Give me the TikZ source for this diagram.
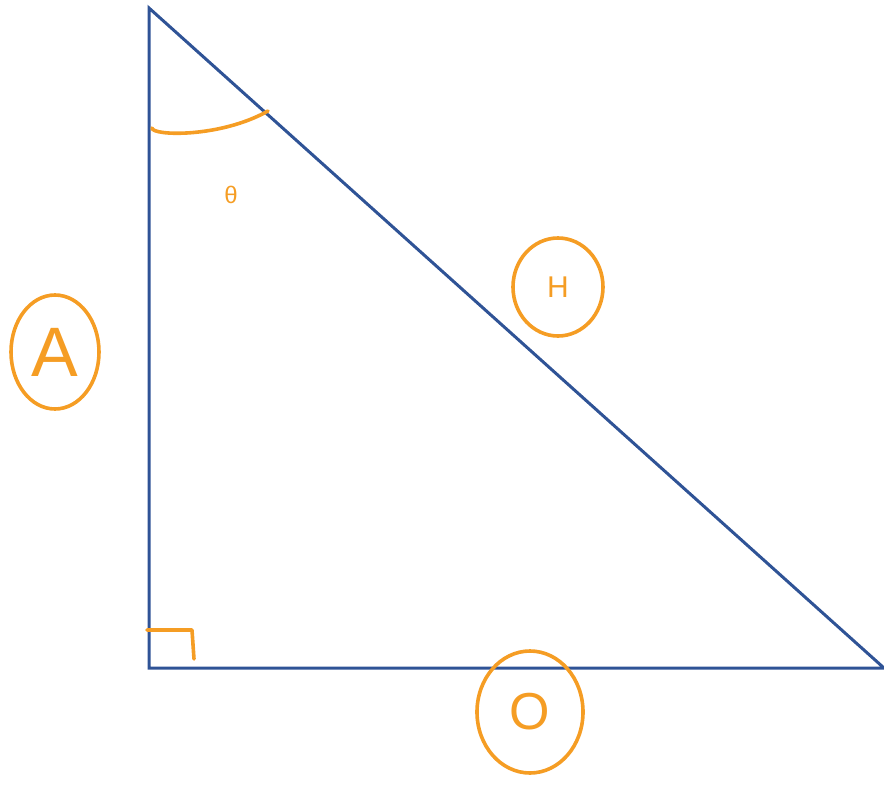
\documentclass[tikz,border=0pt]{standalone}
\usepackage{fontspec}
\setmainfont{Liberation Sans}
\usetikzlibrary{shapes.geometric}
\definecolor{trblue}{RGB}{47,83,150}
\definecolor{trorange}{RGB}{245,157,36}
\begin{document}
\begin{tikzpicture}[x=1pt,y=-1pt,line cap=round,line join=round,
    side/.style={draw=trblue,line width=3pt},
    pen/.style={draw=trorange,line width=3.6pt},
    ringlabel/.style={ellipse,pen,text=trorange,inner sep=0pt}]
  \useasboundingbox (0,0) rectangle (884,806);
  % triangle corners
  \coordinate (top) at (149,8);
  \coordinate (rangle) at (149,668);
  \coordinate (far) at (884,668);
  \draw[side,line join=miter] (top) -- (rangle) -- (far) -- cycle;
  % angle theta and right angle marks
  \draw[pen] (152,128) .. controls (152,136) and (220,138) .. (268,111);
  \draw[pen] (147,630) -- (192,630) -- (194,659);
  \node[text=trorange] (theta) at (231,195) {\fontsize{24pt}{24pt}\selectfont θ};
  % side labels
  \node[ringlabel,minimum width=88pt,minimum height=114pt] (adj) at (55,352) {\fontsize{70pt}{70pt}\selectfont A};
  \node[ringlabel,minimum width=90pt,minimum height=98pt] (hyp) at (558,287) {\fontsize{30pt}{30pt}\selectfont H};
  \node[ringlabel,minimum width=106pt,minimum height=122pt] (opp) at (530,712) {\fontsize{52pt}{52pt}\selectfont O};
\end{tikzpicture}
\end{document}
